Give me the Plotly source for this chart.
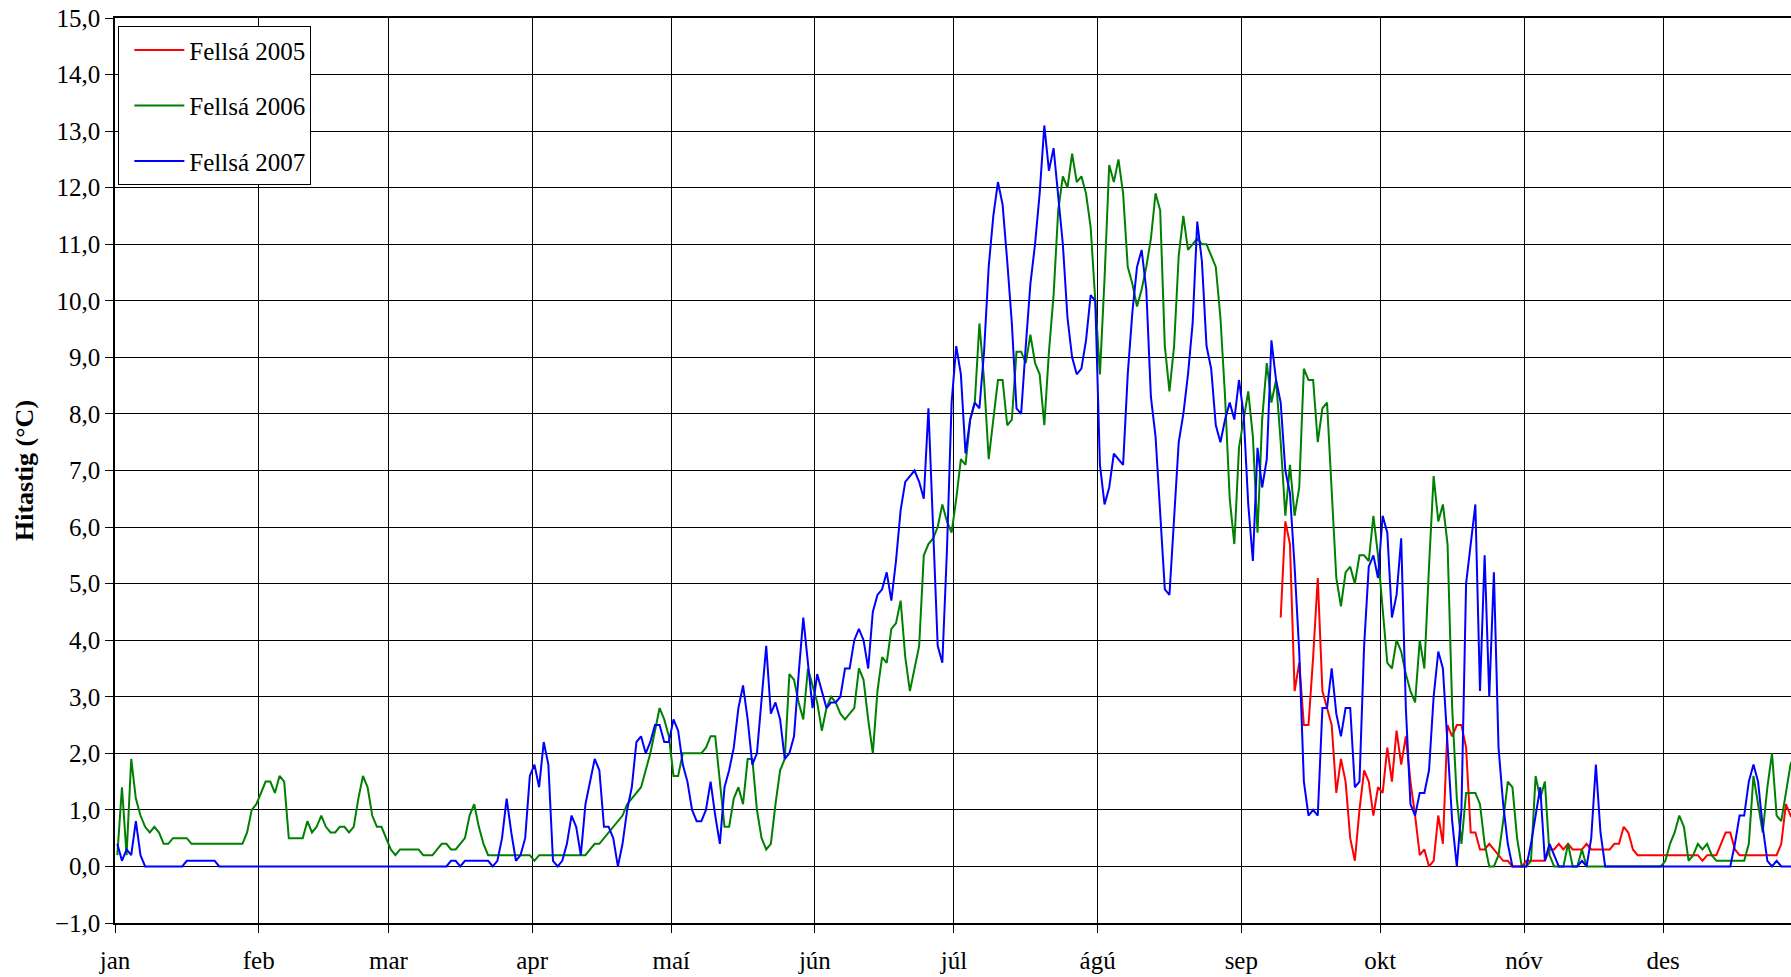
import plotly.graph_objects as go
import pandas as pd

# daily water temperature, Fellsá; index 0 = 1 January
months = ["jan", "feb", "mar", "apr", "maí", "jún", "júl", "ágú", "sep", "okt", "nóv", "des"]
month_starts = ["2007-01-01", "2007-02-01", "2007-03-01", "2007-04-01", "2007-05-01", "2007-06-01",
                "2007-07-01", "2007-08-01", "2007-09-01", "2007-10-01", "2007-11-01", "2007-12-01"]
days = pd.date_range("2007-01-01 12:00", periods=363, freq="D")

fellsa_2005 = [None] * 251 + [
    4.4, 6.1, 5.7, 3.1, 3.6, 2.5, 2.5, 3.7, 5.1,
    3.1, 2.8, 2.5, 1.3, 1.9, 1.5, 0.5, 0.1, 1.0, 1.7,
    1.5, 0.9, 1.4, 1.3, 2.1, 1.5, 2.4, 1.8, 2.3, 1.5,
    0.9, 0.2, 0.3, 0.0, 0.1, 0.9, 0.4, 2.5, 2.3, 2.5,
    2.5, 2.1, 0.6, 0.6, 0.3, 0.3, 0.4, 0.3, 0.2, 0.1,
    0.1, 0.0, 0.0, 0.0, 0.1, 0.1, 0.1, 0.1, 0.1, 0.3,
    0.3, 0.4, 0.3, 0.4, 0.3, 0.3, 0.3, 0.4, 0.3, 0.3,
    0.3, 0.3, 0.3, 0.4, 0.4, 0.7, 0.6, 0.3, 0.2, 0.2,
    0.2, 0.2, 0.2, 0.2, 0.2, 0.2, 0.2, 0.2, 0.2, 0.2,
    0.2, 0.2, 0.1, 0.2, 0.2, 0.2, 0.4, 0.6, 0.6, 0.3,
    0.2, 0.2, 0.2, 0.2, 0.2, 0.2, 0.2, 0.2, 0.2, 0.4,
    1.1, 0.9, 1.0,
]

fellsa_2006 = [
    0.2, 1.4, 0.2, 1.9, 1.2, 0.9, 0.7, 0.6, 0.7, 0.6,
    0.4, 0.4, 0.5, 0.5, 0.5, 0.5, 0.4, 0.4, 0.4, 0.4,
    0.4, 0.4, 0.4, 0.4, 0.4, 0.4, 0.4, 0.4, 0.6, 1.0,
    1.1, 1.3, 1.5, 1.5, 1.3, 1.6, 1.5, 0.5, 0.5, 0.5,
    0.5, 0.8, 0.6, 0.7, 0.9, 0.7, 0.6, 0.6, 0.7, 0.7,
    0.6, 0.7, 1.2, 1.6, 1.4, 0.9, 0.7, 0.7, 0.5, 0.3,
    0.2, 0.3, 0.3, 0.3, 0.3, 0.3, 0.2, 0.2, 0.2, 0.3,
    0.4, 0.4, 0.3, 0.3, 0.4, 0.5, 0.9, 1.1, 0.7, 0.4,
    0.2, 0.2, 0.2, 0.2, 0.2, 0.2, 0.2, 0.2, 0.2, 0.2,
    0.1, 0.2, 0.2, 0.2, 0.2, 0.2, 0.2, 0.2, 0.2, 0.2,
    0.2, 0.2, 0.3, 0.4, 0.4, 0.5, 0.6, 0.7, 0.8, 0.9,
    1.1, 1.2, 1.3, 1.4, 1.7, 2.0, 2.4, 2.8, 2.6, 2.3,
    1.6, 1.6, 2.0, 2.0, 2.0, 2.0, 2.0, 2.1, 2.3, 2.3,
    1.5, 0.7, 0.7, 1.2, 1.4, 1.1, 1.9, 1.9, 1.0, 0.5,
    0.3, 0.4, 1.1, 1.7, 1.9, 3.4, 3.3, 2.9, 2.6, 3.5,
    3.2, 2.9, 2.4, 2.8, 3.0, 2.9, 2.7, 2.6, 2.7, 2.8,
    3.5, 3.3, 2.6, 2.0, 3.1, 3.7, 3.6, 4.2, 4.3, 4.7,
    3.7, 3.1, 3.5, 3.9, 5.5, 5.7, 5.8, 6.0, 6.4, 6.1,
    5.9, 6.5, 7.2, 7.1, 7.9, 8.2, 9.6, 8.6, 7.2, 7.9,
    8.6, 8.6, 7.8, 7.9, 9.1, 9.1, 8.9, 9.4, 8.9, 8.7,
    7.8, 9.1, 10.1, 11.6, 12.2, 12.0, 12.6, 12.1, 12.2, 11.9,
    11.3, 10.0, 8.7, 10.4, 12.4, 12.1, 12.5, 11.9, 10.6, 10.3,
    9.9, 10.2, 10.6, 11.1, 11.9, 11.6, 9.2, 8.4, 9.2, 10.8,
    11.5, 10.9, 11.0, 11.1, 11.0, 11.0, 10.8, 10.6, 9.7, 8.3,
    6.5, 5.7, 7.4, 7.9, 8.4, 7.6, 5.9, 7.9, 8.9, 8.2,
    8.6, 7.5, 6.2, 7.1, 6.2, 6.7, 8.8, 8.6, 8.6, 7.5,
    8.1, 8.2, 6.7, 5.1, 4.6, 5.2, 5.3, 5.0, 5.5, 5.5,
    5.4, 6.2, 5.5, 4.6, 3.6, 3.5, 4.0, 3.8, 3.4, 3.1,
    2.9, 4.0, 3.5, 5.3, 6.9, 6.1, 6.4, 5.7, 2.8, 1.2,
    0.4, 1.3, 1.3, 1.3, 1.1, 0.4, 0.0, 0.0, 0.2, 0.8,
    1.5, 1.4, 0.5, 0.0, 0.0, 0.1, 1.6, 1.2, 1.5, 0.2,
    0.0, 0.0, 0.0, 0.4, 0.0, 0.0, 0.3, 0.0, 0.0, 0.0,
    0.0, 0.0, 0.0, 0.0, 0.0, 0.0, 0.0, 0.0, 0.0, 0.0,
    0.0, 0.0, 0.0, 0.0, 0.1, 0.4, 0.6, 0.9, 0.7, 0.1,
    0.2, 0.4, 0.3, 0.4, 0.2, 0.1, 0.1, 0.1, 0.1, 0.1,
    0.1, 0.1, 0.4, 1.6, 1.1, 0.6, 1.4, 2.0, 0.9, 0.8,
    1.3, 1.8, 2.0,
]

fellsa_2007 = [
    0.4, 0.1, 0.3, 0.2, 0.8, 0.2, 0.0, 0.0, 0.0, 0.0,
    0.0, 0.0, 0.0, 0.0, 0.0, 0.1, 0.1, 0.1, 0.1, 0.1,
    0.1, 0.1, 0.0, 0.0, 0.0, 0.0, 0.0, 0.0, 0.0, 0.0,
    0.0, 0.0, 0.0, 0.0, 0.0, 0.0, 0.0, 0.0, 0.0, 0.0,
    0.0, 0.0, 0.0, 0.0, 0.0, 0.0, 0.0, 0.0, 0.0, 0.0,
    0.0, 0.0, 0.0, 0.0, 0.0, 0.0, 0.0, 0.0, 0.0, 0.0,
    0.0, 0.0, 0.0, 0.0, 0.0, 0.0, 0.0, 0.0, 0.0, 0.0,
    0.0, 0.0, 0.1, 0.1, 0.0, 0.1, 0.1, 0.1, 0.1, 0.1,
    0.1, 0.0, 0.1, 0.5, 1.2, 0.6, 0.1, 0.2, 0.5, 1.6,
    1.8, 1.4, 2.2, 1.8, 0.1, 0.0, 0.1, 0.4, 0.9, 0.7,
    0.2, 1.1, 1.5, 1.9, 1.7, 0.7, 0.7, 0.5, 0.0, 0.4,
    1.0, 1.4, 2.2, 2.3, 2.0, 2.2, 2.5, 2.5, 2.2, 2.2,
    2.6, 2.4, 1.8, 1.5, 1.0, 0.8, 0.8, 1.0, 1.5, 0.9,
    0.4, 1.4, 1.7, 2.1, 2.8, 3.2, 2.6, 1.8, 2.0, 2.9,
    3.9, 2.7, 2.9, 2.6, 1.9, 2.0, 2.3, 3.4, 4.4, 3.6,
    2.8, 3.4, 3.1, 2.8, 2.9, 2.9, 3.0, 3.5, 3.5, 4.0,
    4.2, 4.0, 3.5, 4.5, 4.8, 4.9, 5.2, 4.7, 5.4, 6.3,
    6.8, 6.9, 7.0, 6.8, 6.5, 8.1, 6.0, 3.9, 3.6, 5.6,
    8.2, 9.2, 8.7, 7.3, 7.9, 8.2, 8.1, 9.1, 10.6, 11.5,
    12.1, 11.7, 10.7, 9.6, 8.1, 8.0, 9.2, 10.3, 11.0, 11.9,
    13.1, 12.3, 12.7, 11.9, 11.0, 9.7, 9.0, 8.7, 8.8, 9.3,
    10.1, 10.0, 7.1, 6.4, 6.7, 7.3, 7.2, 7.1, 8.7, 9.8,
    10.6, 10.9, 10.2, 8.3, 7.6, 6.2, 4.9, 4.8, 6.1, 7.5,
    8.0, 8.7, 9.6, 11.4, 10.7, 9.2, 8.8, 7.8, 7.5, 7.9,
    8.2, 7.9, 8.6, 8.0, 6.4, 5.4, 7.4, 6.7, 7.2, 9.3,
    8.6, 8.2, 7.0, 6.6, 5.3, 3.8, 1.5, 0.9, 1.0, 0.9,
    2.8, 2.8, 3.5, 2.7, 2.3, 2.8, 2.8, 1.4, 1.5, 3.9,
    5.3, 5.5, 5.1, 6.2, 5.9, 4.4, 4.8, 5.8, 2.8, 1.1,
    0.9, 1.3, 1.3, 1.7, 3.0, 3.8, 3.5, 2.1, 0.8, 0.0,
    1.0, 5.0, 5.7, 6.4, 3.1, 5.5, 3.0, 5.2, 2.1, 1.1,
    0.4, 0.0, 0.0, 0.0, 0.0, 0.4, 0.9, 1.4, 0.1, 0.4,
    0.2, 0.0, 0.0, 0.0, 0.0, 0.0, 0.1, 0.0, 0.5, 1.8,
    0.6, 0.0, 0.0, 0.0, 0.0, 0.0, 0.0, 0.0, 0.0, 0.0,
    0.0, 0.0, 0.0, 0.0, 0.0, 0.0, 0.0, 0.0, 0.0, 0.0,
    0.0, 0.0, 0.0, 0.0, 0.0, 0.0, 0.0, 0.0, 0.0, 0.4,
    0.9, 0.9, 1.5, 1.8, 1.5, 0.7, 0.1, 0.0, 0.1, 0.0,
    0.0, 0.0, 0.0,
]

FONT = "Liberation Serif"

fig = go.Figure()
for name, vals, color in [("Fellsá 2005", fellsa_2005, "#ff0000"),
                          ("Fellsá 2006", fellsa_2006, "#008000"),
                          ("Fellsá 2007", fellsa_2007, "#0000ff")]:
    fig.add_trace(go.Scatter(x=days, y=vals, name=name, mode="lines",
                             legendgroup=name,
                             line=dict(color=color, width=2)))

fig.update_xaxes(range=["2007-01-01", "2007-12-28 14:24"],
                 tickvals=month_starts, ticktext=months,
                 showgrid=True, gridcolor="#000000", gridwidth=1,
                 showline=True, linecolor="#000000", linewidth=1.5, mirror=True,
                 ticks="outside", ticklen=8, tickcolor="#000000",
                 ticklabelstandoff=6,
                 tickfont=dict(family=FONT, size=25, color="#000000"),
                 zeroline=False, automargin=False)
fig.update_yaxes(range=[-1, 15], dtick=1, tick0=0, tickformat=".1f",
                 showgrid=True, gridcolor="#000000", gridwidth=1,
                 showline=True, linecolor="#000000", linewidth=1.5,
                 ticks="outside", ticklen=8, tickcolor="#000000",
                 tickfont=dict(family=FONT, size=25, color="#000000"),
                 title=dict(text="<b>Hitastig (°C)</b>", standoff=14,
                            font=dict(family=FONT, size=26, color="#000000")),
                 zeroline=False, automargin=False)

fig.update_layout(width=1791, height=977,
                  margin=dict(l=115, r=0, t=18, b=54),
                  separators=", ",
                  paper_bgcolor="white", plot_bgcolor="white",
                  font=dict(family=FONT, size=25, color="#000000"),
                  showlegend=True,
                  legend=dict(x=0.002, y=0.991, xanchor="left", yanchor="top",
                              bgcolor="white", bordercolor="#000000", borderwidth=1,
                              tracegroupgap=20, indentation=10, itemwidth=50,
                              entrywidth=141, entrywidthmode="pixels",
                              font=dict(family=FONT, size=25, color="#000000")))

fig.write_html("out.html", config={"displayModeBar": False},
               post_script="document.body.style.margin='0';")
